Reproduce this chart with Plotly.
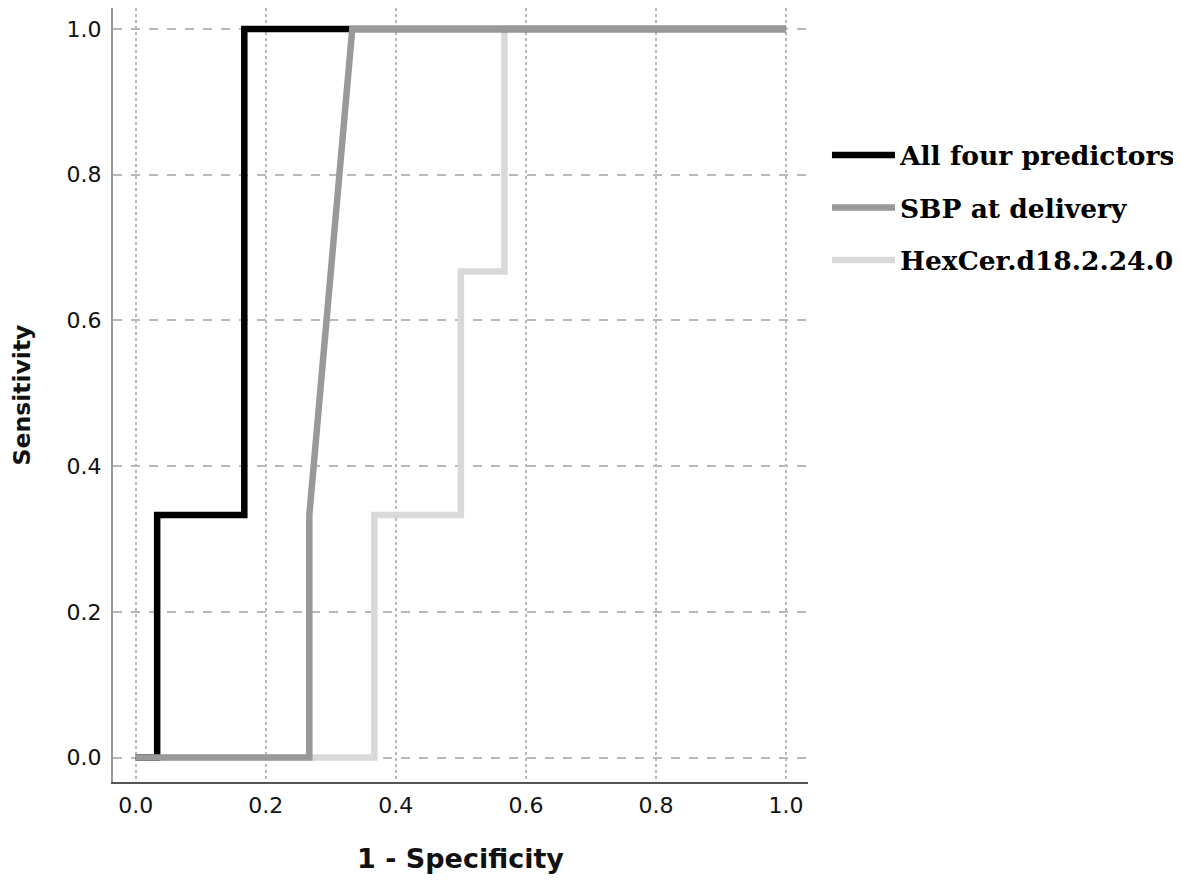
import plotly.graph_objects as go

# ROC curve coordinates (1 - specificity, sensitivity)
all_four_x = [0.0, 0.033, 0.033, 0.167, 0.167, 1.0]
all_four_y = [0.0, 0.0, 0.333, 0.333, 1.0, 1.0]

sbp_x = [0.0, 0.267, 0.267, 0.333, 1.0]
sbp_y = [0.0, 0.0, 0.333, 1.0, 1.0]

hexcer_x = [0.0, 0.367, 0.367, 0.5, 0.5, 0.567, 0.567, 1.0]
hexcer_y = [0.0, 0.0, 0.333, 0.333, 0.667, 0.667, 1.0, 1.0]

tick_vals = [0.0, 0.2, 0.4, 0.6, 0.8, 1.0]
tick_text = ["0.0", "0.2", "0.4", "0.6", "0.8", "1.0"]

series_names = ["All four predictors", "SBP at delivery", "HexCer.d18.2.24.0"]
series_colors = ["#000000", "#999999", "#d9d9d9"]

fig = go.Figure()
# draw order: light gray bottom, black, gray on top
fig.add_trace(go.Scatter(x=hexcer_x, y=hexcer_y, mode="lines", name=series_names[2],
                         line=dict(color=series_colors[2], width=6.5), legendrank=3,
                         legendgroup="c"))
fig.add_trace(go.Scatter(x=all_four_x, y=all_four_y, mode="lines", name=series_names[0],
                         line=dict(color=series_colors[0], width=6.5), legendrank=1,
                         legendgroup="a"))
fig.add_trace(go.Scatter(x=sbp_x, y=sbp_y, mode="lines", name=series_names[1],
                         line=dict(color=series_colors[1], width=6.5), legendrank=2,
                         legendgroup="b"))

grid_color = "#b8b8b8"
fig.update_layout(
    width=1173, height=881,
    margin=dict(l=105, r=373, t=0, b=107),
    paper_bgcolor="white", plot_bgcolor="white",
    showlegend=True,
    legend=dict(
        x=1.0273, xanchor="left", y=0.8407, yanchor="top",
        font=dict(family="DejaVu Serif", size=26.5, color="black", weight="bold"),
        itemwidth=63, tracegroupgap=15, bgcolor="rgba(0,0,0,0)",
    ),
    xaxis=dict(
        range=[-0.0349, 1.0338], tickvals=tick_vals, ticktext=tick_text,
        showgrid=True, gridcolor=grid_color, griddash="dot", gridwidth=1.5,
        showline=True, linecolor="#555555", linewidth=2, zeroline=False,
        ticks="", ticklabelstandoff=3,
        tickfont=dict(family="DejaVu Sans", size=22, color="#111111"),
        title=dict(text="1 - Specificity", standoff=32,
                   font=dict(family="DejaVu Sans", size=27, color="#111111", weight="bold")),
    ),
    yaxis=dict(
        range=[-0.0335, 1.0288], tickvals=tick_vals, ticktext=tick_text,
        showgrid=True, gridcolor=grid_color, griddash="dash", gridwidth=1.5,
        showline=True, linecolor="#999999", linewidth=2, zeroline=False,
        ticks="", ticklabelstandoff=5,
        tickfont=dict(family="DejaVu Sans", size=22, color="#111111"),
        title=dict(text="Sensitivity", standoff=29,
                   font=dict(family="DejaVu Sans", size=23.5, color="#111111", weight="bold")),
    ),
)

fig.write_html("out.html")
